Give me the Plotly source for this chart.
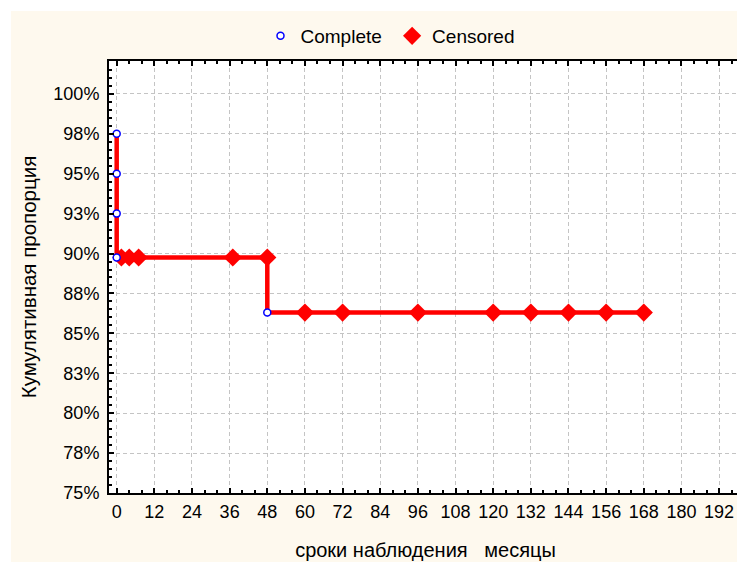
import plotly.graph_objects as go

# Data
complete_t = [0, 0, 0, 0, 48]
complete_s = [97.5, 95.0, 92.5, 89.75, 86.3]
censored_t = [1.5, 4, 7, 37, 48, 60, 72, 96, 120, 132, 144, 156, 168]
censored_s = [89.75, 89.75, 89.75, 89.75, 89.75, 86.3, 86.3, 86.3, 86.3, 86.3, 86.3, 86.3, 86.3]

x_ticks = list(range(0, 193, 12))
y_tickvals = [75, 77.5, 80, 82.5, 85, 87.5, 90, 92.5, 95, 97.5, 100]
y_ticktext = ["75%", "78%", "80%", "83%", "85%", "88%", "90%", "93%", "95%", "98%", "100%"]

# Step curve built from all events in time order
events = sorted([(t, s) for t, s in zip(complete_t, complete_s)] +
                [(t, s) for t, s in zip(censored_t, censored_s)],
                key=lambda e: (e[0], -e[1]))
line_x = [e[0] for e in events]
line_y = [e[1] for e in events]

FONT = "Liberation Sans, Arial, sans-serif"

fig = go.Figure()
fig.add_trace(go.Scatter(x=line_x, y=line_y, mode="lines", line=dict(color="#FF0000", width=4.5, shape="hv"),
                         showlegend=False, hoverinfo="skip"))
fig.add_trace(go.Scatter(x=censored_t, y=censored_s, mode="markers", name="Censored", legendrank=2,
                         marker=dict(symbol="diamond", color="#FF0000", size=14, line=dict(width=0))))
fig.add_trace(go.Scatter(x=complete_t, y=complete_s, mode="markers", name="Complete\u00a0", legendrank=1,
                         marker=dict(symbol="circle", color="white", size=7, line=dict(width=1.5, color="#0000FF"))))

# page body has an 8px margin: figure origin sits at (8, 8) in the window
OFF = 8
W, H = 745 - OFF, 562 - OFF
L, R = 109 - OFF, 3
T = 61 - OFF
B = H - (493 - OFF)
pw, ph = W - L - R, H - T - B

# white outer strips (top and left) over the cream page
fig.add_shape(type="rect", xref="paper", yref="paper",
              x0=-L / pw, x1=(W - L) / pw, y0=(H - B - 3) / ph, y1=(H - B) / ph,
              fillcolor="white", line=dict(width=0), layer="below")
fig.add_shape(type="rect", xref="paper", yref="paper",
              x0=-L / pw, x1=(3 - L) / pw, y0=-B / ph, y1=(H - B) / ph,
              fillcolor="white", line=dict(width=0), layer="below")

GRID = dict(showgrid=True, gridcolor="#C4C4C4", griddash="4px,3px", gridwidth=1)

fig.update_layout(
    width=W, height=H,
    margin=dict(l=L, r=R, t=T, b=B, pad=0),
    paper_bgcolor="#FEF9EE", plot_bgcolor="white",
    font=dict(family=FONT, size=18, color="black"),
    legend=dict(orientation="h", x=(390 - OFF - L) / pw, xanchor="center", y=1 + (T - (36 - OFF)) / ph,
                yanchor="middle", font=dict(size=19), bgcolor="rgba(0,0,0,0)", itemwidth=30,
                traceorder="normal"),
    xaxis=dict(range=[-2.45, 199.3], tickvals=x_ticks, ticktext=[str(v) for v in x_ticks], **GRID,
               showline=True, linecolor="black", linewidth=2, mirror="ticks",
               ticks="inside", ticklen=5, tickcolor="black", tickwidth=1.5,
               minor=dict(dtick=4, tick0=0, ticks="inside", ticklen=3, tickcolor="black", showgrid=False),
               zeroline=False, ticklabelstandoff=1, automargin=False,
               title=dict(text="сроки наблюдения\u00a0\u00a0\u00a0месяцы",
                          font=dict(size=20, family="Liberation Sans Narrow, " + FONT), standoff=22)),
    yaxis=dict(range=[75, 102.06], tickvals=y_tickvals, ticktext=y_ticktext, **GRID,
               showline=True, linecolor="black", linewidth=2, mirror="ticks",
               ticks="inside", ticklen=5, tickcolor="black", tickwidth=1.5,
               minor=dict(dtick=0.5, tick0=75, ticks="inside", ticklen=3, tickcolor="black", showgrid=False),
               zeroline=False, ticklabelstandoff=4, automargin=False,
               title=dict(text="Кумулятивная пропорция", font=dict(size=20.5), standoff=11)),
)

fig.write_html("out.html")
